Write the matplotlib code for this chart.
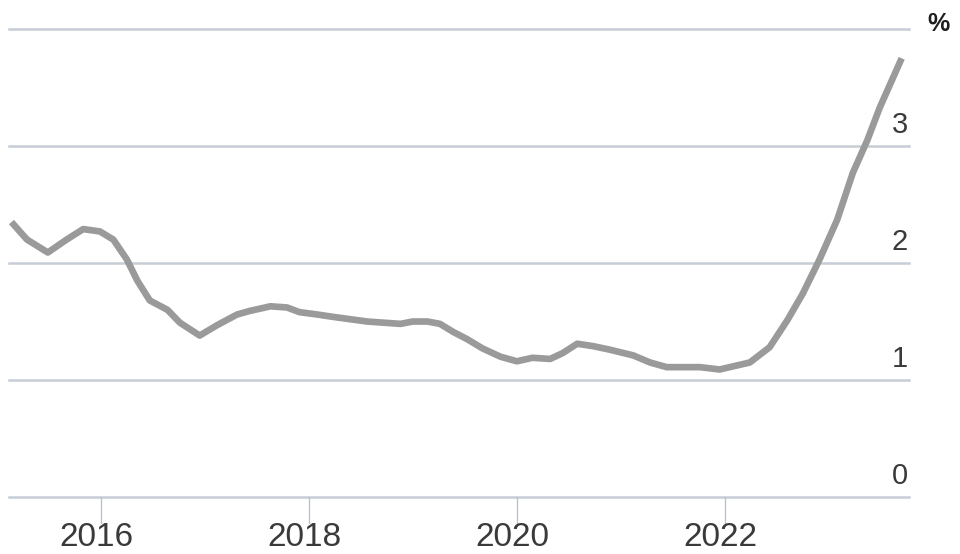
import matplotlib
matplotlib.use("Agg")
import matplotlib.pyplot as plt

# data (year, %)
years = [2015.14, 2015.29, 2015.49, 2015.67, 2015.83, 2015.99, 2016.12, 2016.25,
         2016.35, 2016.47, 2016.64, 2016.76, 2016.95, 2017.12, 2017.31, 2017.43,
         2017.63, 2017.79, 2017.91, 2018.08, 2018.23, 2018.56, 2018.88, 2019.00,
         2019.14, 2019.26, 2019.39, 2019.52, 2019.67, 2019.84, 2020.00, 2020.15,
         2020.32, 2020.44, 2020.58, 2020.73, 2020.89, 2021.12, 2021.28, 2021.44,
         2021.76, 2021.95, 2022.24, 2022.43, 2022.60, 2022.75, 2022.91, 2023.08,
         2023.23, 2023.37, 2023.49, 2023.62, 2023.70]
values = [2.35, 2.20, 2.09, 2.20, 2.29, 2.27, 2.20, 2.03,
          1.85, 1.68, 1.60, 1.49, 1.38, 1.47, 1.56, 1.59,
          1.63, 1.62, 1.58, 1.56, 1.54, 1.50, 1.48, 1.50,
          1.50, 1.48, 1.41, 1.35, 1.27, 1.20, 1.16, 1.19,
          1.18, 1.23, 1.31, 1.29, 1.26, 1.21, 1.15, 1.11,
          1.11, 1.09, 1.15, 1.28, 1.51, 1.74, 2.03, 2.37,
          2.77, 3.05, 3.33, 3.59, 3.75]
x_ticks = [2016, 2018, 2020, 2022]
y_levels = [0, 1, 2, 3, 4]
y_labels = ["0", "1", "2", "3", ""]

font = "Liberation Sans"

fig = plt.figure(figsize=(9.6, 5.54), dpi=100)
ax = fig.add_axes([0, 0, 1, 1])
ax.set_xlim(2015.03, 2015.03 + 960 / 104)
ax.set_ylim(-0.487, 4.248)
ax.axis("off")

x0, x1 = 2015.12, 2023.77

# grid lines + value labels
for lv, lab in zip(y_levels, y_labels):
    ax.plot([x0, x1], [lv, lv], color="#c6cdd7", linewidth=1.8, zorder=1)
    if lab:
        ax.text(x1 - 0.01, lv + 0.06, lab, ha="right", va="bottom",
                fontsize=21, color="#3a3a3a", family=font)

ax.text(2023.95, 4.04, "%", ha="left", va="center", fontsize=18,
        fontweight="bold", color="#1e1e1e", family=font)

# x ticks
for t in x_ticks:
    ax.plot([t, t], [0, -0.22], color="#bcc2ca", linewidth=1.0, zorder=1)
    ax.text(t - 0.04, -0.475, str(t), ha="center", va="bottom",
            fontsize=24, color="#3a3a3a", family=font)

# line
ax.plot(years, values, color="#9a9a9a", linewidth=4.8, solid_capstyle="butt",
        solid_joinstyle="round", zorder=3)

plt.savefig("out.png", dpi=100)
